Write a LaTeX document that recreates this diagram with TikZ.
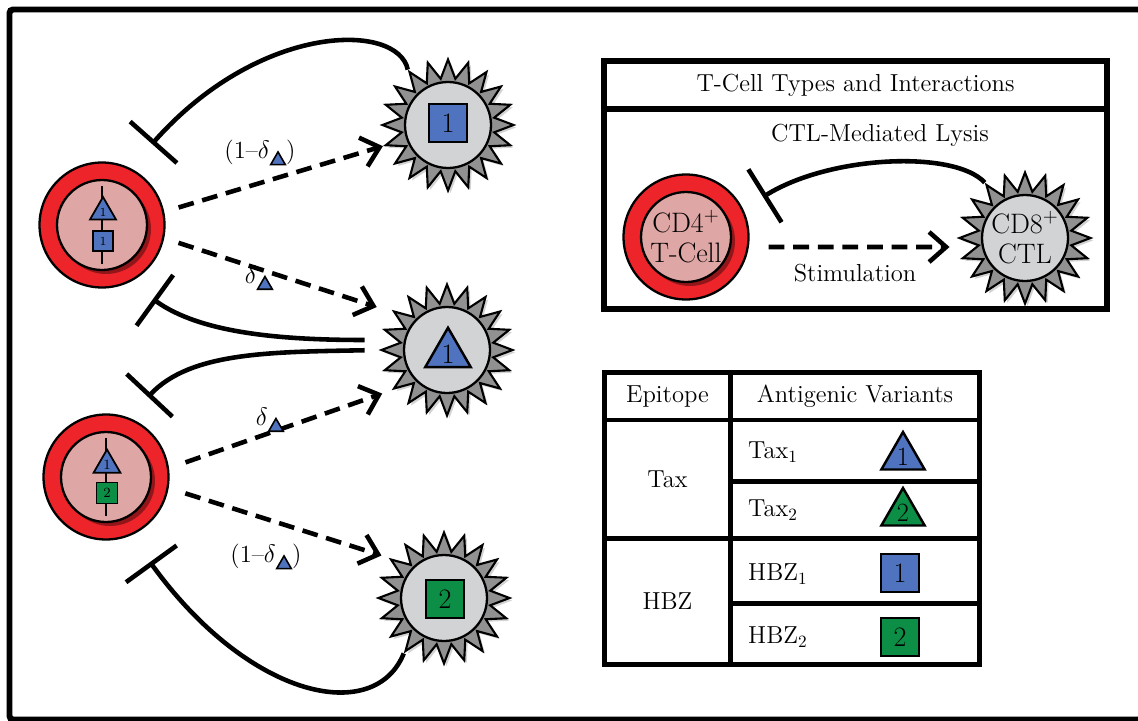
\documentclass[tikz,border=0pt]{standalone}
\usetikzlibrary{shapes.geometric,arrows.meta,shadows}

\definecolor{epblue}{RGB}{79,115,190}
\definecolor{epgreen}{RGB}{12,142,70}
\definecolor{cellred}{RGB}{237,36,42}
\definecolor{cellpink}{RGB}{222,166,164}
\definecolor{ctlgray}{RGB}{145,145,145}
\definecolor{ctllight}{RGB}{210,211,212}

% tiny epitope triangle used as a subscript
\newcommand{\epitri}{\tikz[baseline={([yshift=0.13cm]t.south)}]\node[eptri, fill=epblue, minimum size=0.34cm, line width=0.9pt] (t) {};}

\begin{document}
\begin{tikzpicture}[x=0.02cm, y=-0.02cm,
        font=\fontsize{14}{16}\selectfont,
        tcell/.style = {circle, draw=black, line width=1.3pt, fill=cellred, minimum size=2.5cm, inner sep=0pt},
        tcore/.style = {circle, draw=black, line width=1.3pt, fill=cellpink, minimum size=1.8cm, inner sep=0pt,
                        drop shadow={fill=cellred!45!black, opacity=0.7, shadow xshift=0.08cm, shadow yshift=-0.08cm}},
        ctl/.style = {star, star points=20, star point ratio=1.4, draw=black, line width=1.2pt, fill=ctlgray,
                      minimum size=2.62cm, inner sep=0pt, drop shadow={opacity=0.35, shadow xshift=0.05cm, shadow yshift=-0.05cm}},
        ctlcore/.style = {circle, draw=black, line width=1.3pt, fill=ctllight, minimum size=1.72cm, inner sep=0pt},
        epsq/.style = {rectangle, draw=black, line width=1.4pt, minimum size=0.76cm, inner sep=0pt, font=\fontsize{16}{16}\selectfont},
        eptri/.style = {regular polygon, regular polygon sides=3, draw=black, line width=1.4pt, minimum size=1.0cm, inner sep=0pt},
        box/.style = {rectangle, draw=black, line width=3pt, fill=white, inner sep=0pt},
        cell/.style = {rectangle, draw=black, line width=2.6pt, fill=white, inner sep=0pt},
        stim/.style = {line width=2.6pt, dash pattern=on 9pt off 5pt, -{Straight Barb[length=0.34cm, width=0.6cm, line width=2.6pt]}},
        inhibit/.style = {line width=2.6pt, -{Bar[width=1.25cm, line width=2.6pt]}}
    ]
    \useasboundingbox (0,0) rectangle (1138,720);
    \draw[line width=0.12cm, rounded corners=2pt] (9.5,9.5) rectangle (1142,719.5);

    % ================= T-CELLS AND CTLs =================
    \node[tcell] (tcA) at (102,225) {};
    \node[tcore] (coreA) at (tcA) {};
    \draw[line width=1.2pt] ([yshift=-0.14cm]coreA.north) -- ([yshift=0.14cm]coreA.south);
    \node[eptri, fill=epblue, minimum size=0.6cm, line width=1pt, font=\fontsize{7}{7}\selectfont] (triA) at (103,212) {1};
    \node[epsq, fill=epblue, minimum size=0.4cm, line width=1pt, font=\fontsize{7}{7}\selectfont] (sqA) at (103,241) {1};
    %
    \node[tcell] (tcB) at (106,477) {};
    \node[tcore] (coreB) at (tcB) {};
    \draw[line width=1.2pt] ([yshift=-0.14cm]coreB.north) -- ([yshift=0.14cm]coreB.south);
    \node[eptri, fill=epblue, minimum size=0.62cm, line width=1pt, font=\fontsize{8}{8}\selectfont] (triB) at (107,465) {1};
    \node[epsq, fill=epgreen, minimum size=0.42cm, line width=1pt, font=\fontsize{8}{8}\selectfont] (sqB) at (107,493) {2};
    %
    \node[ctl] (ctl1) at (448,125) {};
    \node[ctlcore] (core1) at (ctl1) {};
    \node[epsq, fill=epblue] (sq1) at (448,123) {1};
    %
    \node[ctl] (ctl2) at (447,350) {};
    \node[ctlcore] (core2) at (ctl2) {};
    \node[eptri, fill=epblue, font=\fontsize{16}{16}\selectfont] (tri2) at (448,354) {1};
    %
    \node[ctl] (ctl3) at (444,598) {};
    \node[ctlcore] (core3) at (ctl3) {};
    \node[epsq, fill=epgreen] (sq3) at (445,599) {2};

    % lysis of the infected cells
    \coordinate (barA) at (152,144);
    \coordinate (barB) at (153,299);
    \coordinate (barC) at (148,397);
    \coordinate (barD) at (150,562);
    \draw[inhibit] (ctl1.126) .. controls (398,22) and (260,22) .. (barA);
    \draw[inhibit, shorten <=0.28cm] ([yshift=0.2cm]ctl2.west) .. controls (280,340) and (200,333) .. (barB);
    \draw[inhibit, shorten <=0.28cm] (ctl2.west) .. controls (270,352) and (190,352) .. (barC);
    \draw[inhibit] (ctl3.234) .. controls (375,725) and (250,700) .. (barD);

    % stimulation of the CTLs
    \draw[stim, shorten <=0.3cm] (tcA.12) -- (ctl1.198);
    \draw[stim, shorten <=0.3cm, shorten >=0.35cm] (tcA.-12) -- (ctl2.145);
    \draw[stim, shorten <=0.35cm, shorten >=0.2cm] (tcB.8) -- (ctl2.216);
    \draw[stim, shorten <=0.35cm, shorten >=0.15cm] (tcB.-10) -- (ctl3.144);
    %
    \node (lblA) at (260,153) {(1--$\delta$\epitri)};
    \node (lblB) at (259,278) {$\delta$\epitri};
    \node (lblC) at (270,420) {$\delta$\epitri};
    \node (lblD) at (266,557) {(1--$\delta$\epitri)};

    % ================= LEGEND: CELL TYPES =================
    \node[box, minimum width=10.06cm, minimum height=0.96cm] (legtitle) at (855.5,85) {T-Cell Types and Interactions};
    \node[box, minimum width=10.06cm, minimum height=4cm] (legbody) at (855.5,209) {};
    %
    \node[tcell] (cd4) at (686,237) {};
    \node[tcore] (cd4core) at (cd4) {};
    \node[align=center, font=\fontsize{16}{17}\selectfont] (cd4txt) at (cd4) {CD4$^+$\\T-Cell};
    \node[ctl] (cd8) at (1025,238) {};
    \node[ctlcore] (cd8core) at (cd8) {};
    \node[align=center, font=\fontsize{16}{17}\selectfont] (cd8txt) at (cd8) {CD8$^+$\\CTL};
    %
    \coordinate (lysend) at (763,197);
    \draw[inhibit] (cd8.126) .. controls (955,150) and (830,155) .. (lysend);
    \node (lysis) at (880,135) {CTL-Mediated Lysis};
    \draw[stim] ([xshift=0.38cm, yshift=-0.2cm]cd4.east) -- ([xshift=-0.14cm, yshift=-0.18cm]cd8.west);
    \node (stimlbl) at (855,273) {Stimulation};

    % ================= LEGEND: EPITOPES =================
    \node[cell, minimum width=2.52cm, minimum height=0.95cm] (hdep) at (667.5,396.25) {Epitope};
    \node[cell, minimum width=4.98cm, minimum height=0.95cm] (hdvar) at (855,396.25) {Antigenic Variants};
    \node[cell, minimum width=2.52cm, minimum height=2.37cm] (tax) at (667.5,479.25) {Tax};
    \node[cell, minimum width=4.98cm, minimum height=1.23cm] (tax1) at (855,450.75) {};
    \node[cell, minimum width=4.98cm, minimum height=1.14cm] (tax2) at (855,510) {};
    \node[cell, minimum width=2.52cm, minimum height=2.52cm] (hbz) at (667.5,601.5) {HBZ};
    \node[cell, minimum width=4.98cm, minimum height=1.3cm] (hbz1) at (855,571) {};
    \node[cell, minimum width=4.98cm, minimum height=1.22cm] (hbz2) at (855,634) {};
    %
    \node[anchor=west] (tax1lbl) at (742,452) {Tax\textsubscript{1}};
    \node[anchor=west] (tax2lbl) at (742,510) {Tax\textsubscript{2}};
    \node[anchor=west] (hbz1lbl) at (742,574) {HBZ\textsubscript{1}};
    \node[anchor=west] (hbz2lbl) at (742,637) {HBZ\textsubscript{2}};
    \node[eptri, fill=epblue, font=\fontsize{15}{15}\selectfont] (tritax1) at (903,457) {1};
    \node[eptri, fill=epgreen, font=\fontsize{15}{15}\selectfont] (tritax2) at (903,513) {2};
    \node[epsq, fill=epblue] (sqhbz1) at (900,573) {1};
    \node[epsq, fill=epgreen] (sqhbz2) at (900,637) {2};

\end{tikzpicture}
\end{document}
